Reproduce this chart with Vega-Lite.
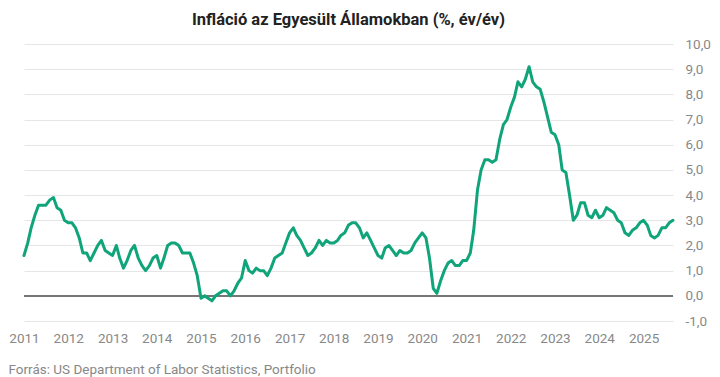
{
  "$schema": "https://vega.github.io/schema/vega-lite/v6.json",
  "width": 649,
  "height": 277,
  "autosize": {"type": "none"},
  "padding": {"left": 24, "top": 44, "right": 47, "bottom": 56},
  "background": "white",
  "config": {
    "view": {"stroke": null},
    "font": "Roboto",
    "locale": {"number": {"decimal": ",", "thousands": " ", "grouping": [3], "currency": ["", " Ft"], "minus": "-"}},
    "axisY": {
      "labelFont": "Roboto",
      "labelFontSize": 13.5,
      "labelColor": "#888888",
      "labelPadding": 12,
      "labelOverlap": false,
      "labelFlush": false,
      "ticks": false,
      "domain": false,
      "grid": true,
      "gridColor": "#e6e6e6",
      "gridWidth": 1
    }
  },
  "title": {
    "text": "Infláció az Egyesült Államokban (%, év/év)",
    "font": "Roboto",
    "fontSize": 16.5,
    "fontWeight": "bold",
    "color": "#222222",
    "anchor": "middle",
    "offset": 9
  },
  "data": {
    "values": [
      {"date": "2011-01-01", "v": 1.6}, {"date": "2011-02-01", "v": 2.1}, {"date": "2011-03-01", "v": 2.7}, {"date": "2011-04-01", "v": 3.2}, {"date": "2011-05-01", "v": 3.6}, {"date": "2011-06-01", "v": 3.6}, {"date": "2011-07-01", "v": 3.6}, {"date": "2011-08-01", "v": 3.8}, {"date": "2011-09-01", "v": 3.9}, {"date": "2011-10-01", "v": 3.5}, {"date": "2011-11-01", "v": 3.4}, {"date": "2011-12-01", "v": 3.0},
      {"date": "2012-01-01", "v": 2.9}, {"date": "2012-02-01", "v": 2.9}, {"date": "2012-03-01", "v": 2.7}, {"date": "2012-04-01", "v": 2.3}, {"date": "2012-05-01", "v": 1.7}, {"date": "2012-06-01", "v": 1.7}, {"date": "2012-07-01", "v": 1.4}, {"date": "2012-08-01", "v": 1.7}, {"date": "2012-09-01", "v": 2.0}, {"date": "2012-10-01", "v": 2.2}, {"date": "2012-11-01", "v": 1.8}, {"date": "2012-12-01", "v": 1.7},
      {"date": "2013-01-01", "v": 1.6}, {"date": "2013-02-01", "v": 2.0}, {"date": "2013-03-01", "v": 1.5}, {"date": "2013-04-01", "v": 1.1}, {"date": "2013-05-01", "v": 1.4}, {"date": "2013-06-01", "v": 1.8}, {"date": "2013-07-01", "v": 2.0}, {"date": "2013-08-01", "v": 1.5}, {"date": "2013-09-01", "v": 1.2}, {"date": "2013-10-01", "v": 1.0}, {"date": "2013-11-01", "v": 1.2}, {"date": "2013-12-01", "v": 1.5},
      {"date": "2014-01-01", "v": 1.6}, {"date": "2014-02-01", "v": 1.1}, {"date": "2014-03-01", "v": 1.5}, {"date": "2014-04-01", "v": 2.0}, {"date": "2014-05-01", "v": 2.1}, {"date": "2014-06-01", "v": 2.1}, {"date": "2014-07-01", "v": 2.0}, {"date": "2014-08-01", "v": 1.7}, {"date": "2014-09-01", "v": 1.7}, {"date": "2014-10-01", "v": 1.7}, {"date": "2014-11-01", "v": 1.3}, {"date": "2014-12-01", "v": 0.8},
      {"date": "2015-01-01", "v": -0.1}, {"date": "2015-02-01", "v": 0.0}, {"date": "2015-03-01", "v": -0.1}, {"date": "2015-04-01", "v": -0.2}, {"date": "2015-05-01", "v": 0.0}, {"date": "2015-06-01", "v": 0.1}, {"date": "2015-07-01", "v": 0.2}, {"date": "2015-08-01", "v": 0.2}, {"date": "2015-09-01", "v": 0.0}, {"date": "2015-10-01", "v": 0.2}, {"date": "2015-11-01", "v": 0.5}, {"date": "2015-12-01", "v": 0.7},
      {"date": "2016-01-01", "v": 1.4}, {"date": "2016-02-01", "v": 1.0}, {"date": "2016-03-01", "v": 0.9}, {"date": "2016-04-01", "v": 1.1}, {"date": "2016-05-01", "v": 1.0}, {"date": "2016-06-01", "v": 1.0}, {"date": "2016-07-01", "v": 0.8}, {"date": "2016-08-01", "v": 1.1}, {"date": "2016-09-01", "v": 1.5}, {"date": "2016-10-01", "v": 1.6}, {"date": "2016-11-01", "v": 1.7}, {"date": "2016-12-01", "v": 2.1},
      {"date": "2017-01-01", "v": 2.5}, {"date": "2017-02-01", "v": 2.7}, {"date": "2017-03-01", "v": 2.4}, {"date": "2017-04-01", "v": 2.2}, {"date": "2017-05-01", "v": 1.9}, {"date": "2017-06-01", "v": 1.6}, {"date": "2017-07-01", "v": 1.7}, {"date": "2017-08-01", "v": 1.9}, {"date": "2017-09-01", "v": 2.2}, {"date": "2017-10-01", "v": 2.0}, {"date": "2017-11-01", "v": 2.2}, {"date": "2017-12-01", "v": 2.1},
      {"date": "2018-01-01", "v": 2.1}, {"date": "2018-02-01", "v": 2.2}, {"date": "2018-03-01", "v": 2.4}, {"date": "2018-04-01", "v": 2.5}, {"date": "2018-05-01", "v": 2.8}, {"date": "2018-06-01", "v": 2.9}, {"date": "2018-07-01", "v": 2.9}, {"date": "2018-08-01", "v": 2.7}, {"date": "2018-09-01", "v": 2.3}, {"date": "2018-10-01", "v": 2.5}, {"date": "2018-11-01", "v": 2.2}, {"date": "2018-12-01", "v": 1.9},
      {"date": "2019-01-01", "v": 1.6}, {"date": "2019-02-01", "v": 1.5}, {"date": "2019-03-01", "v": 1.9}, {"date": "2019-04-01", "v": 2.0}, {"date": "2019-05-01", "v": 1.8}, {"date": "2019-06-01", "v": 1.6}, {"date": "2019-07-01", "v": 1.8}, {"date": "2019-08-01", "v": 1.7}, {"date": "2019-09-01", "v": 1.7}, {"date": "2019-10-01", "v": 1.8}, {"date": "2019-11-01", "v": 2.1}, {"date": "2019-12-01", "v": 2.3},
      {"date": "2020-01-01", "v": 2.5}, {"date": "2020-02-01", "v": 2.3}, {"date": "2020-03-01", "v": 1.5}, {"date": "2020-04-01", "v": 0.3}, {"date": "2020-05-01", "v": 0.1}, {"date": "2020-06-01", "v": 0.6}, {"date": "2020-07-01", "v": 1.0}, {"date": "2020-08-01", "v": 1.3}, {"date": "2020-09-01", "v": 1.4}, {"date": "2020-10-01", "v": 1.2}, {"date": "2020-11-01", "v": 1.2}, {"date": "2020-12-01", "v": 1.4},
      {"date": "2021-01-01", "v": 1.4}, {"date": "2021-02-01", "v": 1.7}, {"date": "2021-03-01", "v": 2.6}, {"date": "2021-04-01", "v": 4.2}, {"date": "2021-05-01", "v": 5.0}, {"date": "2021-06-01", "v": 5.4}, {"date": "2021-07-01", "v": 5.4}, {"date": "2021-08-01", "v": 5.3}, {"date": "2021-09-01", "v": 5.4}, {"date": "2021-10-01", "v": 6.2}, {"date": "2021-11-01", "v": 6.8}, {"date": "2021-12-01", "v": 7.0},
      {"date": "2022-01-01", "v": 7.5}, {"date": "2022-02-01", "v": 7.9}, {"date": "2022-03-01", "v": 8.5}, {"date": "2022-04-01", "v": 8.3}, {"date": "2022-05-01", "v": 8.6}, {"date": "2022-06-01", "v": 9.1}, {"date": "2022-07-01", "v": 8.5}, {"date": "2022-08-01", "v": 8.3}, {"date": "2022-09-01", "v": 8.2}, {"date": "2022-10-01", "v": 7.7}, {"date": "2022-11-01", "v": 7.1}, {"date": "2022-12-01", "v": 6.5},
      {"date": "2023-01-01", "v": 6.4}, {"date": "2023-02-01", "v": 6.0}, {"date": "2023-03-01", "v": 5.0}, {"date": "2023-04-01", "v": 4.9}, {"date": "2023-05-01", "v": 4.0}, {"date": "2023-06-01", "v": 3.0}, {"date": "2023-07-01", "v": 3.2}, {"date": "2023-08-01", "v": 3.7}, {"date": "2023-09-01", "v": 3.7}, {"date": "2023-10-01", "v": 3.2}, {"date": "2023-11-01", "v": 3.1}, {"date": "2023-12-01", "v": 3.4},
      {"date": "2024-01-01", "v": 3.1}, {"date": "2024-02-01", "v": 3.2}, {"date": "2024-03-01", "v": 3.5}, {"date": "2024-04-01", "v": 3.4}, {"date": "2024-05-01", "v": 3.3}, {"date": "2024-06-01", "v": 3.0}, {"date": "2024-07-01", "v": 2.9}, {"date": "2024-08-01", "v": 2.5}, {"date": "2024-09-01", "v": 2.4}, {"date": "2024-10-01", "v": 2.6}, {"date": "2024-11-01", "v": 2.7}, {"date": "2024-12-01", "v": 2.9},
      {"date": "2025-01-01", "v": 3.0}, {"date": "2025-02-01", "v": 2.8}, {"date": "2025-03-01", "v": 2.4}, {"date": "2025-04-01", "v": 2.3}, {"date": "2025-05-01", "v": 2.4}, {"date": "2025-06-01", "v": 2.7}, {"date": "2025-07-01", "v": 2.7}, {"date": "2025-08-01", "v": 2.9}, {"date": "2025-09-01", "v": 3.0}
    ]
  },
  "layer": [
    {
      "mark": {"type": "rule", "color": "#777777", "strokeWidth": 1},
      "encoding": {
        "y": {
          "datum": 0,
          "type": "quantitative",
          "scale": {"domain": [-1, 10], "nice": false, "zero": false},
          "axis": {
            "title": null,
            "orient": "right",
            "values": [-1, 0, 1, 2, 3, 4, 5, 6, 7, 8, 9, 10],
            "format": ".1f"
          }
        }
      }
    },
    {
      "mark": {"type": "line", "color": "#10a47a", "strokeWidth": 3, "strokeJoin": "round", "strokeCap": "round"},
      "encoding": {
        "x": {
          "field": "date",
          "type": "temporal",
          "scale": {"domain": ["2011-01-01", "2025-09-01"], "nice": false},
          "axis": {
            "title": "Forrás: US Department of Labor Statistics, Portfolio",
            "titleFont": "Roboto",
            "titleFontSize": 13.5,
            "titleFontWeight": "normal",
            "titleColor": "#888888",
            "titleAnchor": "start",
            "titleAlign": "left",
            "titleBaseline": "alphabetic",
            "titleX": -16,
            "titleY": 52,
            "format": "%Y",
            "tickCount": {"interval": "year", "step": 1},
            "labelFont": "Roboto",
            "labelFontSize": 13.5,
            "labelColor": "#888888",
            "labelPadding": 10,
            "labelOverlap": false,
            "labelFlush": false,
            "ticks": false,
            "domain": false,
            "grid": false
          }
        },
        "y": {
          "field": "v",
          "type": "quantitative",
          "scale": {"domain": [-1, 10], "nice": false, "zero": false},
          "axis": {
            "title": null,
            "orient": "right",
            "values": [-1, 0, 1, 2, 3, 4, 5, 6, 7, 8, 9, 10],
            "format": ".1f"
          }
        }
      }
    }
  ]
}
